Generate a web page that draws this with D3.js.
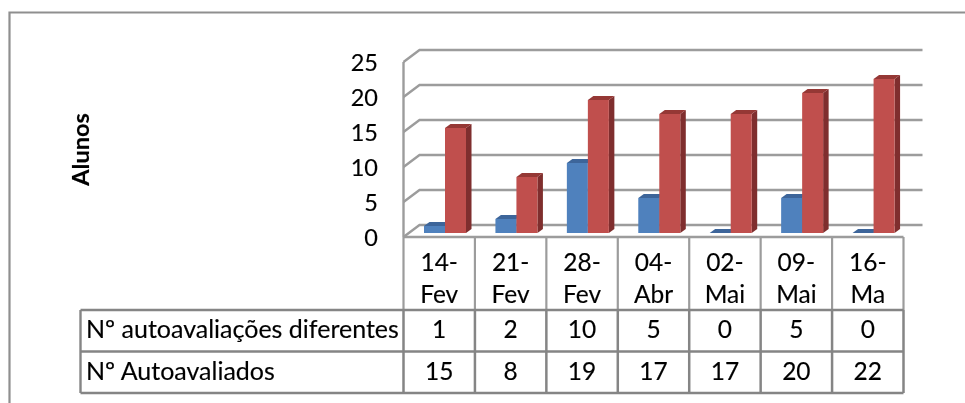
<!DOCTYPE html>
<html><head><meta charset="utf-8">
<script src="https://cdn.jsdelivr.net/npm/d3@7"></script>
<style>html,body{margin:0;padding:0;background:#fff}svg{display:block}text{font-family:Lato,sans-serif;fill:#000;stroke:#000;stroke-width:0.15}</style>
</head><body><svg id="c" width="965" height="403"></svg>
<script>
const categoriesTop = ["14-","21-","28-","04-","02-","09-","16-"];
const categoriesBottom = ["Fev","Fev","Fev","Abr","Mai","Mai","Ma"];
const seriesNames = ["Nº autoavaliações diferentes","Nº Autoavaliados"];
const diferentes = [1,2,10,5,0,5,0];
const autoavaliados = [15,8,19,17,17,20,22];
const yTicks = [0,5,10,15,20,25];

const svg = d3.select("#c");
svg.append("defs").append("filter").attr("id","soft").attr("x","-5%").attr("y","-5%").attr("width","110%").attr("height","110%")
  .append("feGaussianBlur").attr("stdDeviation",0.4);
const root = svg.append("g").attr("filter","url(#soft)");

const GRID="#9c9c9c", TBL="#858585";
const x = d3.scaleLinear().domain([0,7]).range([403.5,903.5]);
const y = d3.scaleLinear().domain([0,25]).range([237,62]);
const dx=16, dy=-12;
const FS=24.5;

// outer frame
root.append("path").attr("d","M9.5,403V12.5H965").attr("fill","none").attr("stroke","#8f8f8f").attr("stroke-width",2.2);

// walls: gridlines
yTicks.forEach(t=>{
  root.append("path").attr("fill","none").attr("stroke",GRID).attr("stroke-width",2.4)
    .attr("d",`M${x(0)},${y(t)}L${x(0)+dx},${y(t)+dy}H${x(7)+dx+3}`);
});
root.append("line").attr("x1",x(0)).attr("x2",x(0)).attr("y1",y(25)).attr("y2",y(0)).attr("stroke",GRID).attr("stroke-width",2.4);

// bars
const barW=21, sx=5.5, sy=-4, base=y(0)-4, unit=(y(0)-y(1));
const bar=(px,v,front,top,side)=>{
  const h=v*unit, t=base-h;
  root.append("path").attr("fill",side).attr("d",`M${px+barW},${t}l${sx},${sy}V${base+sy}l${-sx},${-sy}Z`);
  root.append("path").attr("fill",top).attr("d",`M${px},${t}l${sx},${sy}h${barW}l${-sx},${-sy}Z`);
  if(h>0) root.append("rect").attr("x",px).attr("y",t).attr("width",barW).attr("height",h).attr("fill",front);
};
categoriesTop.forEach((c,i)=>{
  const px=x(i)+20.5;
  bar(px,diferentes[i],"#4f81bd","#3c659a","#3c659a");
  bar(px+barW,autoavaliados[i],"#c0504d","#953735","#7f2f2d");
});

// y tick labels
yTicks.forEach(t=>root.append("text").attr("x",378).attr("y",y(t)+9).attr("text-anchor","end").attr("font-size",23.5).text(t));

// axis title
root.append("text").attr("transform","translate(89,149.5) rotate(-90)").attr("text-anchor","middle")
  .attr("font-size",23.5).attr("font-weight",700).text("Alunos");

// table
const rowY=[237,310,351.5,393];
const g=root.append("g").attr("fill","none");
const L=(a,b,c,d,col,w)=>g.append("line").attr("x1",a).attr("y1",b).attr("x2",c).attr("y2",d).attr("stroke",col).attr("stroke-width",w);
L(x(0),rowY[0],x(7),rowY[0],GRID,2.4);
d3.range(8).forEach(i=>L(x(i),rowY[0],x(i),rowY[1],GRID,2.2));
d3.range(8).forEach(i=>L(x(i),rowY[1],x(i),rowY[3],TBL,2.5));
[1,2,3].forEach(r=>L(80.5,rowY[r],x(7),rowY[r],TBL,2.4));
L(80.5,rowY[1],80.5,rowY[3],TBL,2.4);

seriesNames.forEach((s,r)=>root.append("text").attr("x",86).attr("y",rowY[r+1]+28).attr("font-size",25).text(s));
categoriesTop.forEach((c,i)=>{
  const cx=(x(i)+x(i+1))/2;
  root.append("text").attr("x",cx).attr("y",271).attr("text-anchor","middle").attr("font-size",FS).text(c);
  root.append("text").attr("x",cx).attr("y",303).attr("text-anchor","middle").attr("font-size",FS).text(categoriesBottom[i]);
  root.append("text").attr("x",cx).attr("y",rowY[1]+28).attr("text-anchor","middle").attr("font-size",FS).text(diferentes[i]);
  root.append("text").attr("x",cx).attr("y",rowY[2]+28).attr("text-anchor","middle").attr("font-size",FS).text(autoavaliados[i]);
});
</script></body></html>
